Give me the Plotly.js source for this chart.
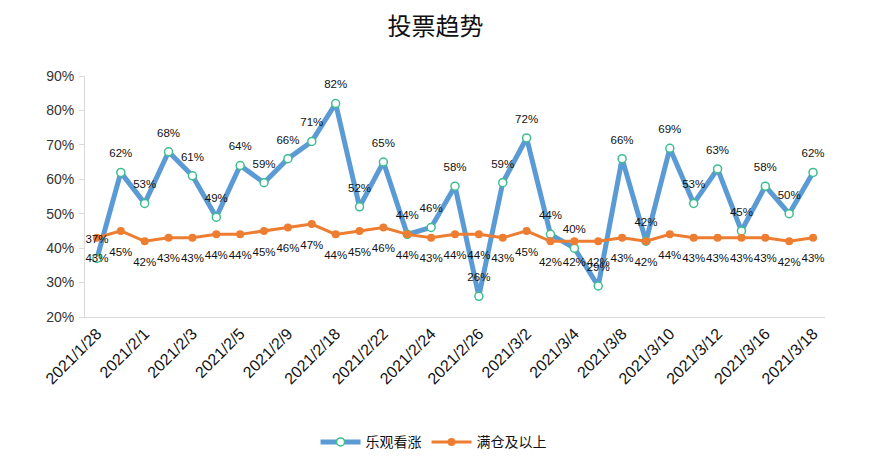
<!DOCTYPE html>
<html>
<head>
<meta charset="utf-8">
<script src="https://cdn.plot.ly/plotly-3.0.1.min.js"></script>
<style>html,body{margin:0;padding:0;background:#fff;}#chart{width:871px;height:472px;}</style>
</head>
<body>
<div id="chart"></div>
<script>
var dates = ["2021/1/28","2021/1/29","2021/2/1","2021/2/2","2021/2/3","2021/2/4","2021/2/5","2021/2/8","2021/2/9","2021/2/10","2021/2/18","2021/2/19","2021/2/22","2021/2/23","2021/2/24","2021/2/25","2021/2/26","2021/3/1","2021/3/2","2021/3/3","2021/3/4","2021/3/5","2021/3/8","2021/3/9","2021/3/10","2021/3/11","2021/3/12","2021/3/15","2021/3/16","2021/3/17","2021/3/18"];
var bullish = [37,62,53,68,61,49,64,59,66,71,82,52,65,44,46,58,26,59,72,44,40,29,66,42,69,53,63,45,58,50,62];
var fullPos = [43,45,42,43,43,44,44,45,46,47,44,45,46,44,43,44,44,43,45,42,42,42,43,42,44,43,43,43,43,42,43];
var tickLabels = ["2021/1/28","2021/2/1","2021/2/3","2021/2/5","2021/2/9","2021/2/18","2021/2/22","2021/2/24","2021/2/26","2021/3/2","2021/3/4","2021/3/8","2021/3/10","2021/3/12","2021/3/16","2021/3/18"];
var seriesNames = ["乐观看涨","满仓及以上"];

function frac(a){return a.map(function(v){return v/100;});}
function pct(a){return a.map(function(v){return v+"%";});}

var labelFont = {family:"Liberation Sans, Arial, sans-serif", size:11.5, color:"#111"};

var traces = [
  {
    x: dates, y: frac(bullish), name: seriesNames[0], type:"scatter",
    mode:"lines+markers",
    line:{color:"#5B9BD5", width:5},
    marker:{symbol:"circle", size:8, color:"#ffffff", line:{color:"#3DBE8C", width:1.5}},
    cliponaxis:false
  },
  {
    x: dates, y: frac(fullPos), name: seriesNames[1], type:"scatter",
    mode:"lines+markers",
    line:{color:"#ED7D31", width:3},
    marker:{symbol:"circle", size:8, color:"#ED7D31"},
    cliponaxis:false
  },
  {
    x: dates, y: frac(bullish), type:"scatter", mode:"markers+text", showlegend:false,
    text: pct(bullish), textposition:"top center", textfont: labelFont,
    marker:{size:18, opacity:0, color:"#5B9BD5"}, cliponaxis:false
  },
  {
    x: dates, y: frac(fullPos), type:"scatter", mode:"markers+text", showlegend:false,
    text: pct(fullPos), textposition:"bottom center", textfont: labelFont,
    marker:{size:24, opacity:0, color:"#ED7D31"}, cliponaxis:false
  }
];

var layout = {
  width:871, height:472,
  margin:{l:85, r:46, t:76, b:155},
  paper_bgcolor:"#fff", plot_bgcolor:"#fff",
  title:{text:"投票趋势", xref:"container", x:0.5, xanchor:"center", y:0.943, yanchor:"middle",
         font:{family:"Noto Sans CJK SC, sans-serif", size:24, color:"#111"}},
  xaxis:{type:"category", tickmode:"array", tickvals:tickLabels, ticktext:tickLabels,
         tickangle:-45, showgrid:false, showline:true, linecolor:"#d9d9d9", linewidth:1,
         ticks:"", zeroline:false, range:[-0.5, dates.length-0.5],
         tickfont:{family:"Liberation Sans, Arial, sans-serif", size:16, color:"#111"}},
  yaxis:{range:[0.2,0.9], dtick:0.1, tickformat:".0%", showgrid:false, showline:true,
         linecolor:"#d9d9d9", linewidth:1, ticks:"outside", ticklen:5, tickcolor:"#d9d9d9",
         zeroline:false, ticklabelstandoff:2,
         tickfont:{family:"Liberation Sans, Arial, sans-serif", size:14, color:"#333"}},
  showlegend:true,
  legend:{orientation:"h", x:0.471, xanchor:"center", y:-0.52, yanchor:"middle",
          font:{family:"Noto Sans CJK SC, sans-serif", size:14, color:"#111"},
          itemwidth:40, tracegroupgap:0},
  hovermode:false
};

Plotly.newPlot("chart", traces, layout, {displayModeBar:false, staticPlot:true});
</script>
</body>
</html>
